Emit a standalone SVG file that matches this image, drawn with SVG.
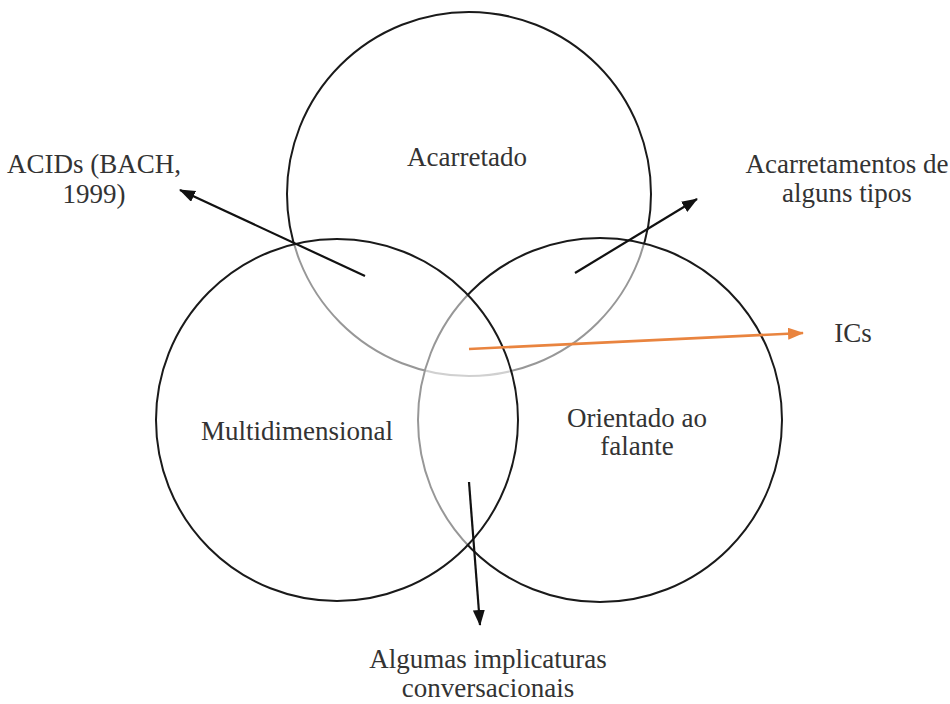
<svg xmlns="http://www.w3.org/2000/svg" width="950" height="704" viewBox="0 0 950 704">
<defs>
<style>
.c{fill:#fff;fill-opacity:0.55;stroke:#1a1a1a;stroke-width:2}
.t{font-family:"Liberation Serif","Times New Roman",serif;font-size:27px;fill:#333;text-anchor:middle}
.a{stroke:#111;stroke-width:2.2;fill:none}
.o{stroke:#e9843f;stroke-width:2.6;fill:none}
</style>
<marker id="mk" markerUnits="userSpaceOnUse" markerWidth="18" markerHeight="14" refX="15" refY="6" orient="auto"><path d="M0,0 L16,6 L0,12 Z" fill="#111"/></marker>
<marker id="mo" markerUnits="userSpaceOnUse" markerWidth="18" markerHeight="14" refX="15" refY="6" orient="auto"><path d="M0,0 L16,6 L0,12 Z" fill="#e9843f"/></marker>
</defs>
<rect width="950" height="704" fill="#fff"/>
<g id="acarretado"><circle class="c" cx="469" cy="194" r="182"/><text class="t" x="467" y="166">Acarretado</text></g>
<g id="orientado"><circle class="c" cx="600" cy="420" r="182"/><text class="t" x="637" y="427">Orientado ao</text><text class="t" x="637" y="455">falante</text></g>
<g id="multidimensional"><circle class="c" cx="337" cy="420" r="181"/><text class="t" x="297" y="440">Multidimensional</text></g>
<g id="acids"><text class="t" x="94" y="173">ACIDs (BACH,</text><text class="t" x="94" y="203">1999)</text></g>
<g id="acarretamentos"><text class="t" x="847" y="173">Acarretamentos de</text><text class="t" x="847" y="202">alguns tipos</text></g>
<g id="ics"><text class="t" x="853" y="342">ICs</text></g>
<g id="implicaturas"><text class="t" x="488" y="668">Algumas implicaturas</text><text class="t" x="488" y="697">conversacionais</text></g>
<g id="connectors">
<line class="a" x1="365" y1="276" x2="180" y2="190" marker-end="url(#mk)"/>
<line class="a" x1="575" y1="273" x2="697" y2="199" marker-end="url(#mk)"/>
<line class="o" x1="469" y1="349" x2="803" y2="333" marker-end="url(#mo)"/>
<line class="a" x1="469" y1="482" x2="480" y2="625" marker-end="url(#mk)"/>
</g>
</svg>
